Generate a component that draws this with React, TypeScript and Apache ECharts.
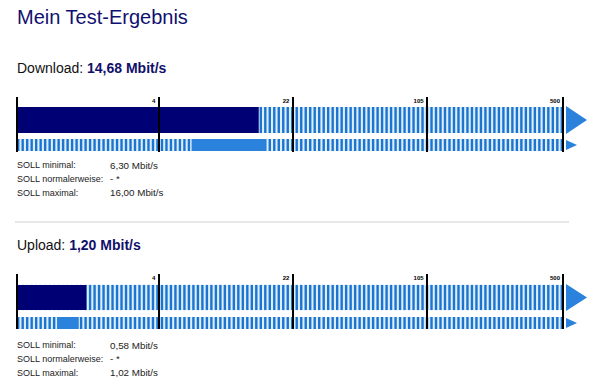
import React, { useEffect, useRef } from "react";
import * as echarts from "echarts";

// ---- data ----
const tickValues = [0, 4, 22, 105, 500];
const tickLabels = ["", "4", "22", "105", "500"];

const sections = ["Download", "Upload"];
const measured = [14.68, 1.2];
const measuredText = ["14,68 Mbit/s", "1,20 Mbit/s"];
const sollMin = [6.3, 0.58];
const sollMax = [16.0, 1.02];
const sollLabels = ["SOLL minimal:", "SOLL normalerweise:", "SOLL maximal:"];
const sollDownloadTexts = ["6,30 Mbit/s", "- *", "16,00 Mbit/s"];
const sollUploadTexts = ["0,58 Mbit/s", "- *", "1,02 Mbit/s"];

// gauge scale: logarithmic in (1 + v)
const toAxis = (v: number) => Math.log(1 + v);
const AXIS_MAX = toAxis(500);

const NAVY = "#000075";
const LIGHT = "#2a82dc";
const STRIPE = "#1a74d0";
const GAP = "#ddedfa";
const FONT = "'Liberation Sans', Arial, sans-serif";

const layouts = [
  { tickTop: 97, tickH: 55, mainTop: 107, mainH: 26, lowTop: 139, lowH: 12, head: 68, soll: 165 },
  { tickTop: 274, tickH: 55, mainTop: 285, mainH: 25, lowTop: 317, lowH: 12, head: 245, soll: 345 },
];

const LEFT = 17;
const RIGHT = 37;

function labelFor(v: number) {
  let best = 0;
  let bd = Infinity;
  tickValues.forEach((t, i) => {
    const d = Math.abs(toAxis(t) - v);
    if (d < bd) {
      bd = d;
      best = i;
    }
  });
  return tickLabels[best];
}

function buildOption() {
  const grid: any[] = [];
  const xAxis: any[] = [];
  const yAxis: any[] = [];
  const series: any[] = [];
  const graphic: any[] = [];

  graphic.push({
    type: "text",
    x: 17,
    y: 17,
    style: { text: "Mein Test-Ergebnis", fontSize: 20, fontFamily: FONT, fill: "#101070", verticalAlign: "middle" },
  });

  sections.forEach((name, s) => {
    const L = layouts[s];
    const base = grid.length;
    // tick grid
    grid.push({ left: LEFT, right: RIGHT, top: L.tickTop, height: L.tickH, containLabel: false, outerBoundsMode: "none", z: 10 });
    // main bar grid
    grid.push({
      left: LEFT, right: RIGHT, top: L.mainTop, height: L.mainH, containLabel: false, outerBoundsMode: "none",
      show: true, backgroundColor: GAP, borderWidth: 0, borderColor: "transparent",
    });
    // lower bar grid
    grid.push({
      left: LEFT, right: RIGHT, top: L.lowTop, height: L.lowH, containLabel: false, outerBoundsMode: "none",
      show: true, backgroundColor: GAP, borderWidth: 0, borderColor: "transparent",
    });

    xAxis.push({
      gridIndex: base, type: "value", min: 0, max: AXIS_MAX, position: "top", z: 10,
      axisLine: { show: false, onZero: false }, splitLine: { show: false },
      axisTick: { show: true, inside: true, length: L.tickH, customValues: tickValues.map(toAxis), lineStyle: { color: "#000", width: 2 } },
      axisLabel: {
        show: true, inside: true, customValues: tickValues.slice(1).map(toAxis), formatter: (v: number) => labelFor(v),
        align: "right", fontSize: 6, fontWeight: "bold", color: "#000", fontFamily: FONT, margin: 1, padding: [0, 3, 0, 0],
      },
    });
    yAxis.push({ gridIndex: base, type: "value", min: 0, max: 1, show: false, axisLine: { onZero: false } });
    for (let k = 1; k <= 2; k++) {
      xAxis.push({ gridIndex: base + k, type: "value", min: 0, max: AXIS_MAX, show: false });
      yAxis.push({ gridIndex: base + k, type: "category", data: [name], show: false });
    }

    // main row
    series.push({
      type: "pictorialBar", xAxisIndex: base + 1, yAxisIndex: base + 1, data: [AXIS_MAX],
      symbol: "rect", symbolRepeat: true, symbolSize: [2.4, L.mainH], symbolMargin: 1.05, barWidth: L.mainH,
      itemStyle: { color: STRIPE }, z: 2, silent: true,
    });
    series.push({
      type: "bar", xAxisIndex: base + 1, yAxisIndex: base + 1, data: [toAxis(measured[s])],
      barWidth: L.mainH, itemStyle: { color: NAVY }, z: 3, silent: true,
    });
    // lower row
    series.push({
      type: "pictorialBar", xAxisIndex: base + 2, yAxisIndex: base + 2, data: [AXIS_MAX],
      symbol: "rect", symbolRepeat: true, symbolSize: [2.4, L.lowH], symbolMargin: 1.05, barWidth: L.lowH,
      itemStyle: { color: STRIPE }, z: 2, silent: true,
    });
    series.push({
      type: "bar", xAxisIndex: base + 2, yAxisIndex: base + 2, data: [toAxis(sollMin[s])], stack: "soll" + s,
      barWidth: L.lowH, barGap: "-100%", itemStyle: { color: "rgba(0,0,0,0)" }, z: 3, silent: true,
    });
    series.push({
      type: "bar", xAxisIndex: base + 2, yAxisIndex: base + 2, data: [toAxis(sollMax[s]) - toAxis(sollMin[s])], stack: "soll" + s,
      barWidth: L.lowH, barGap: "-100%", itemStyle: { color: LIGHT }, z: 3, silent: true,
    });

    // heading
    graphic.push({
      type: "text", x: 17, y: L.head,
      style: {
        text: name + ": {b|" + measuredText[s] + "}",
        fontSize: 14, fontFamily: FONT, fill: "#111", verticalAlign: "middle",
        rich: { b: { fontSize: 14, fontFamily: FONT, fontWeight: "bold", fill: "#10106b" } },
      },
    });
    // arrows
    const ax = 566;
    graphic.push({
      type: "polygon",
      shape: { points: [[ax, L.mainTop - 1], [ax + 21, L.mainTop + L.mainH / 2], [ax, L.mainTop + L.mainH + 1]] },
      style: { fill: LIGHT },
    });
    graphic.push({
      type: "polygon",
      shape: { points: [[ax, L.lowTop + 1], [ax + 11, L.lowTop + L.lowH / 2], [ax, L.lowTop + L.lowH - 1]] },
      style: { fill: LIGHT },
    });
    // SOLL table
    const vals = s === 0 ? sollDownloadTexts : sollUploadTexts;
    sollLabels.forEach((lab, i) => {
      const y = L.soll + i * 13.8;
      graphic.push({ type: "text", x: 17, y, style: { text: lab, fontSize: 9, fontFamily: FONT, fill: "#222", verticalAlign: "middle" } });
      graphic.push({ type: "text", x: 110, y, style: { text: vals[i], fontSize: 9.8, fontFamily: FONT, fill: "#222", verticalAlign: "middle" } });
    });
  });

  graphic.push({
    type: "line",
    shape: { x1: 15, y1: 222, x2: 569, y2: 222 },
    style: { stroke: "#d0d0cc", lineWidth: 1 },
  });

  return { animation: false, backgroundColor: "#fff", grid, xAxis, yAxis, series, graphic };
}

export default function App() {
  const ref = useRef<HTMLDivElement>(null);
  useEffect(() => {
    document.body.style.margin = "0";
    if (!ref.current) return;
    const chart = echarts.init(ref.current, null, { renderer: "svg" });
    chart.setOption(buildOption() as any);
    return () => chart.dispose();
  }, []);
  return <div ref={ref} style={{ width: 600, height: 387 }} />;
}
